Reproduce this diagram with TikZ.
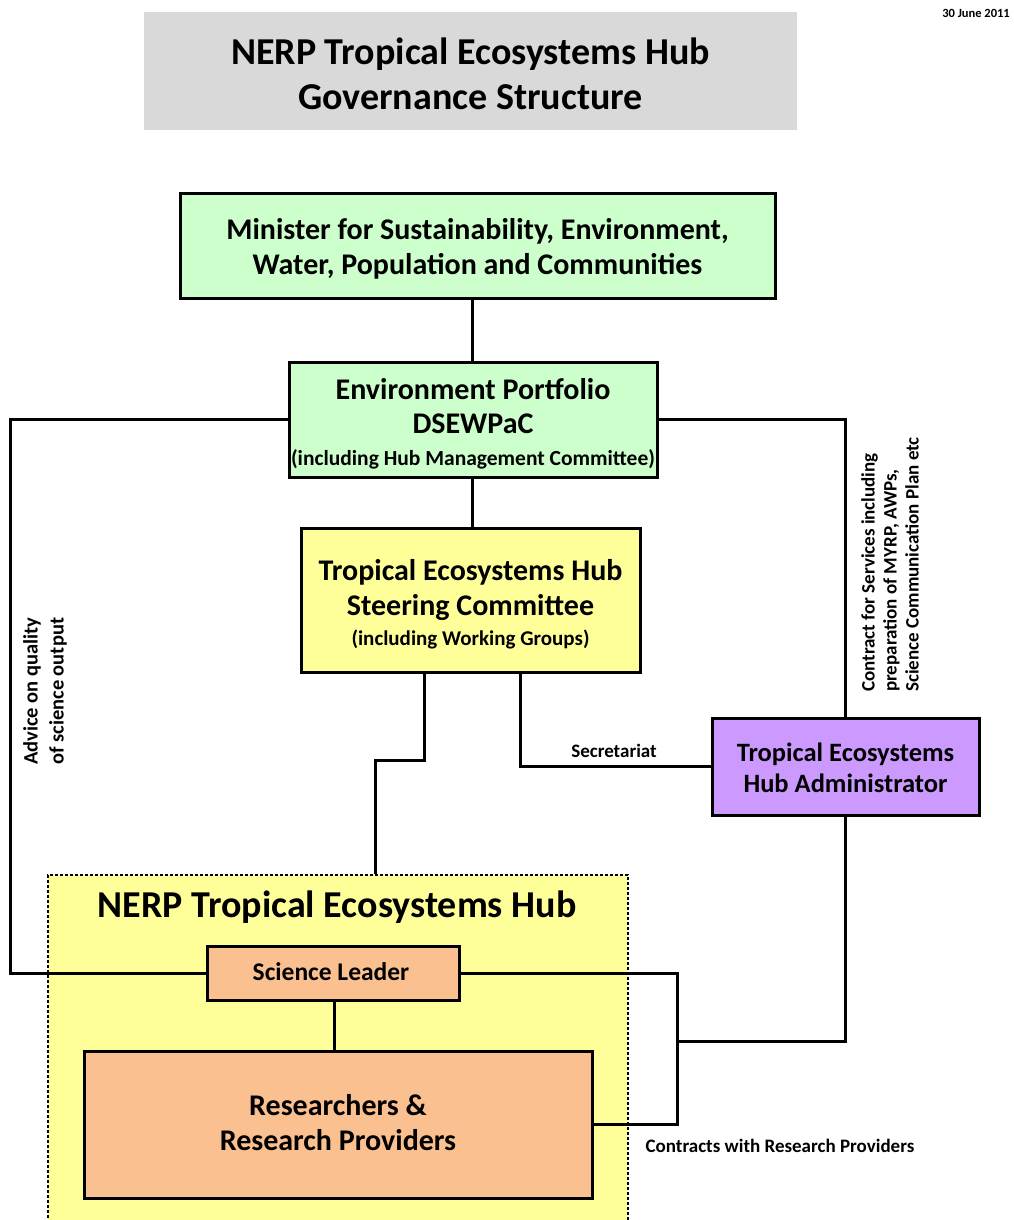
\documentclass[tikz,border=0pt]{standalone}
\usepackage{fontspec}
\setmainfont{Carlito}
\definecolor{titlegray}{HTML}{D9D9D9}
\definecolor{mgreen}{HTML}{CCFFCC}
\definecolor{myellow}{HTML}{FFFF99}
\definecolor{mpurple}{HTML}{CC99FF}
\definecolor{morange}{HTML}{FAC090}
\begin{document}
\begin{tikzpicture}[x=1pt,y=-1pt,
  box/.style={draw=black, line width=3pt, rectangle, inner sep=0pt},
  txt/.style={align=center, inner sep=0pt},
  conn/.style={draw=black, line width=3pt},
  lbl/.style={inner sep=0pt}]
\useasboundingbox (0,0) rectangle (1013,1220);
\fill[white] (0,0) rectangle (1013,1220);

\node[lbl, anchor=east, font=\bfseries\fontsize{12.5}{15}\selectfont] (date) at (1010,13) {30 June 2011};

\node[rectangle, fill=titlegray, minimum width=653pt, minimum height=118pt, inner sep=0pt] (title) at (470.5,71) {};
\node[txt, font=\bfseries\fontsize{38}{45}\selectfont] (title-t) at (470.5,74) {NERP Tropical Ecosystems Hub\\Governance Structure};

% hub container
\node[draw=black, fill=myellow, line width=1.5pt, dash pattern=on 3pt off 2pt, rectangle,
  minimum width=580pt, minimum height=350pt, inner sep=0pt] (hub) at (338,1050) {};
\node[lbl, font=\bfseries\fontsize{38}{40}\selectfont] (hubtitle) at (337,907) {NERP Tropical Ecosystems Hub};

\node[box, fill=mgreen, minimum width=595pt, minimum height=105pt] (minister) at (477.5,245.5) {};
\node[txt, font=\bfseries\fontsize{30}{35}\selectfont] (minister-t) at (477.5,248.5)
  {Minister for Sustainability, Environment,\\Water, Population and Communities};

\node[box, fill=mgreen, minimum width=368pt, minimum height=115pt] (portfolio) at (473,419.5) {};
\node[txt, font=\bfseries\fontsize{30}{34}\selectfont] (portfolio-t) at (473,423.5)
  {Environment Portfolio\\DSEWPaC\\[-2pt]{\fontsize{21.5}{32}\selectfont (including Hub Management Committee)}};

\node[box, fill=myellow, minimum width=339pt, minimum height=144pt] (steering) at (470.5,600) {};
\node[txt, font=\bfseries\fontsize{30}{35}\selectfont] (steering-t) at (470.5,604)
  {Tropical Ecosystems Hub\\Steering Committee\\[-5pt]{\fontsize{21}{30}\selectfont (including Working Groups)}};

\node[box, fill=mpurple, minimum width=267pt, minimum height=97pt] (admin) at (845.5,766.5) {};
\node[txt, font=\bfseries\fontsize{26.5}{31}\selectfont] (admin-t) at (845.5,767.5) {Tropical Ecosystems\\Hub Administrator};

\node[box, fill=morange, minimum width=252pt, minimum height=54pt] (sl) at (333,973) {};
\node[txt, font=\bfseries\fontsize{25.5}{28}\selectfont] (sl-t) at (331,972) {Science Leader};

\node[box, fill=morange, minimum width=508pt, minimum height=147pt] (res) at (338,1124.5) {};
\node[txt, font=\bfseries\fontsize{30}{35}\selectfont] (res-t) at (338,1122.5) {Researchers \&\\Research Providers};

% labels
\node[lbl, font=\bfseries\fontsize{19}{22}\selectfont] (secr) at (614,751) {Secretariat};
\node[lbl, font=\bfseries\fontsize{19}{22}\selectfont] (contr) at (780,1146) {Contracts with Research Providers};
\node[lbl, rotate=90, anchor=west, align=left, font=\bfseries\fontsize{20.5}{26}\selectfont] (advice) at (45,765)
  {Advice on quality\\of science output};
\node[lbl, rotate=90, anchor=west, align=left, font=\bfseries\fontsize{19}{22}\selectfont] (contract) at (890,692)
  {Contract for Services including\\preparation of MYRP, AWPs,\\Science Communication Plan etc};

% connector coordinates
\coordinate (lc1) at (10,419.5);
\coordinate (lc2) at (10,973);
\coordinate (s1) at (424,760);
\coordinate (s2) at (375,760);
\coordinate (s3) at (520,766.5);
\coordinate (rv) at (677,0);
\coordinate (aj) at (677,1041);
\coordinate (cx) at (472,0);

% connectors
\draw[conn] (minister.south -| cx) -- (portfolio.north -| cx);
\draw[conn] (portfolio.south -| cx) -- (steering.north -| cx);
\draw[conn] (portfolio.west) -- (lc1) -- (lc2) -- (sl.west);
\draw[conn] (portfolio.east) -| (admin.north);
\draw[conn] (steering.south -| s1) -- (s1) -- (s2) -- (hub.north -| s2);
\draw[conn] (steering.south -| s3) -- (s3) -- (admin.west);
\draw[conn] (sl.south -| 334,0) -- (res.north -| 334,0);
\draw[conn] (sl.east) -- (sl.east -| rv) -- (res.east -| rv) -- (res.east);
\draw[conn] (admin.south) |- (aj);
\end{tikzpicture}
\end{document}
